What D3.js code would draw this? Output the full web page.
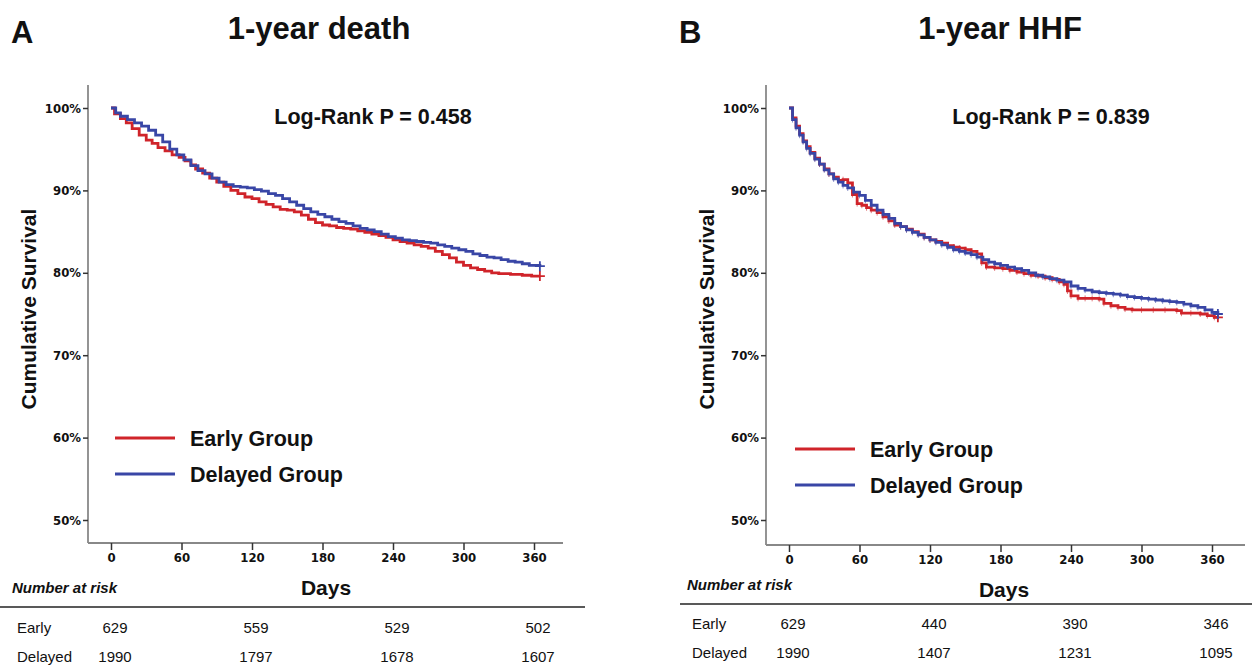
<!DOCTYPE html>
<html>
<head>
<meta charset="utf-8">
<script src="https://cdn.jsdelivr.net/npm/d3@7"></script>
<style>
  body { margin: 0; background: #fff; }
  text { font-family: "Liberation Sans", Arial, sans-serif; fill: #111; }
  .tick text { font-family: "Liberation Sans Narrow", "DejaVu Sans Condensed", sans-serif; font-weight: bold; font-size: 13px; }
</style>
</head>
<body>
<div id="container"></div>
<script>
const w = 1252;
const h = 665;

const dayTicks = [0, 60, 120, 180, 240, 300, 360];
const pctTicks = [0.5, 0.6, 0.7, 0.8, 0.9, 1.0];
const riskDays = [0, 120, 240, 360];
const groups = ['Early', 'Delayed'];

// panel A: 1-year death
const deathEarlyDays = [0, 3, 8, 13, 18, 24, 30, 35, 40, 46, 52, 58, 63, 68, 72, 78, 84, 90, 96, 102, 108, 114, 120, 126, 132, 138, 144, 150, 156, 162, 168, 174, 180, 186, 192, 198, 204, 210, 216, 222, 228, 234, 240, 246, 252, 258, 264, 270, 276, 282, 288, 294, 300, 306, 312, 318, 324, 330, 340, 350, 358, 365];
const deathEarlySurv = [100, 99.3, 98.7, 98.2, 97.5, 96.7, 96.1, 95.7, 95.2, 94.8, 94.3, 94.0, 93.6, 93.1, 92.6, 92.1, 91.5, 91.0, 90.5, 90.0, 89.6, 89.2, 89.0, 88.6, 88.3, 88.0, 87.7, 87.6, 87.4, 87.0, 86.5, 86.1, 85.8, 85.7, 85.5, 85.4, 85.3, 85.1, 84.9, 84.7, 84.5, 84.3, 84.0, 83.8, 83.6, 83.4, 83.2, 83.0, 82.6, 82.2, 81.8, 81.3, 80.9, 80.6, 80.4, 80.2, 80.0, 79.9, 79.8, 79.7, 79.6, 79.6];
const deathDelayedDays = [0, 4, 8, 14, 20, 26, 32, 38, 44, 50, 56, 62, 68, 74, 80, 86, 92, 98, 104, 110, 116, 122, 128, 134, 140, 146, 152, 158, 164, 170, 176, 182, 188, 194, 200, 206, 212, 218, 224, 230, 236, 242, 248, 254, 260, 266, 272, 278, 284, 290, 296, 302, 308, 314, 320, 326, 332, 338, 344, 350, 356, 365];
const deathDelayedSurv = [100, 99.4, 99.0, 98.6, 98.2, 97.8, 97.3, 96.7, 95.9, 95.0, 94.3, 93.7, 93.0, 92.4, 92.0, 91.5, 91.0, 90.7, 90.5, 90.4, 90.3, 90.1, 89.9, 89.6, 89.4, 89.0, 88.6, 88.2, 87.8, 87.4, 87.1, 86.8, 86.5, 86.2, 86.0, 85.7, 85.4, 85.2, 85.0, 84.7, 84.4, 84.2, 84.0, 83.9, 83.8, 83.7, 83.6, 83.4, 83.2, 83.0, 82.8, 82.6, 82.3, 82.1, 81.9, 81.8, 81.6, 81.4, 81.3, 81.1, 80.9, 80.8];
const deathRiskEarly = [629, 559, 529, 502];
const deathRiskDelayed = [1990, 1797, 1678, 1607];

// panel B: 1-year HHF
const hhfEarlyDays = [0, 3, 6, 9, 12, 15, 18, 22, 26, 30, 34, 38, 42, 46, 50, 54, 58, 62, 66, 70, 75, 80, 85, 90, 95, 100, 105, 110, 115, 120, 125, 130, 135, 140, 145, 150, 155, 160, 164, 168, 175, 182, 188, 194, 200, 206, 212, 218, 224, 230, 234, 237, 240, 246, 252, 258, 264, 268, 274, 280, 286, 292, 300, 310, 320, 330, 334, 342, 350, 356, 362, 365];
const hhfEarlySurv = [100, 98.8, 97.8, 96.9, 96.0, 95.3, 94.6, 93.9, 93.2, 92.6, 92.0, 91.6, 91.2, 91.3, 90.9, 89.5, 88.4, 88.2, 87.9, 87.6, 87.3, 86.8, 86.3, 85.8, 85.6, 85.3, 85.0, 84.7, 84.3, 84.0, 83.8, 83.6, 83.3, 83.1, 83.0, 82.8, 82.6, 82.3, 81.2, 80.7, 80.6, 80.5, 80.3, 80.1, 79.9, 79.7, 79.6, 79.4, 79.2, 78.9, 78.6, 77.8, 77.2, 76.9, 76.9, 76.9, 76.8, 76.3, 76.0, 75.8, 75.6, 75.5, 75.5, 75.5, 75.5, 75.4, 75.1, 75.1, 75.0, 74.8, 74.6, 74.6];
const hhfDelayedDays = [0, 3, 6, 9, 12, 15, 18, 22, 26, 30, 34, 38, 42, 46, 50, 55, 60, 65, 70, 75, 80, 85, 90, 95, 100, 105, 110, 115, 120, 125, 130, 135, 140, 145, 150, 155, 160, 165, 170, 175, 180, 186, 192, 198, 204, 210, 216, 222, 228, 234, 240, 246, 252, 258, 264, 270, 276, 282, 288, 294, 300, 306, 312, 318, 324, 330, 336, 342, 348, 354, 360, 365];
const hhfDelayedSurv = [100, 98.6, 97.6, 96.7, 95.9, 95.1, 94.5, 93.8, 93.2, 92.5, 92.0, 91.4, 91.0, 90.6, 90.3, 89.8, 89.4, 88.8, 88.2, 87.6, 87.1, 86.6, 86.0, 85.6, 85.2, 84.9, 84.6, 84.3, 84.0, 83.7, 83.4, 83.1, 82.8, 82.6, 82.4, 82.2, 81.9, 81.6, 81.3, 81.1, 80.9, 80.7, 80.5, 80.3, 80.0, 79.7, 79.5, 79.3, 79.1, 78.9, 78.4, 78.1, 77.9, 77.7, 77.6, 77.5, 77.4, 77.3, 77.1, 77.0, 76.9, 76.8, 76.7, 76.6, 76.5, 76.4, 76.2, 76.0, 75.8, 75.5, 75.2, 75.0];
const hhfRiskEarly = [629, 440, 390, 346];
const hhfRiskDelayed = [1990, 1407, 1231, 1095];

const red = '#d0242a';
const blue = '#3946a6';

const svg = d3.select('#container')
  .append('svg')
  .attr('width', w)
  .attr('height', h)
  .attr('viewBox', [0, 0, w, h]);

const zip = (days, surv) => days.map((d, i) => [d, surv[i] / 100]);

function panel(o) {
  const g = svg.append('g').attr('transform', `translate(${o.dx},0)`);
  const x = d3.scaleLinear().domain([0, 360]).range([111, 534]);
  const y = d3.scaleLinear().domain([0.5, 1]).range([520, 108]);

  g.append('text').attr('x', o.letterX).attr('y', 43)
    .attr('font-size', 31).attr('font-weight', 'bold').text(o.letter);
  g.append('text').attr('x', o.titleX).attr('y', 39).attr('text-anchor', 'middle')
    .attr('font-size', 31).attr('font-weight', 'bold').text(o.title);

  // axes
  const yAxis = d3.axisLeft(y).tickValues(pctTicks).tickFormat(d3.format('.0%')).tickSize(5).tickPadding(2);
  const xAxis = d3.axisBottom(x).tickValues(dayTicks).tickSize(7).tickPadding(3);
  const ya = g.append('g').attr('transform', 'translate(88,0)').call(yAxis);
  ya.select('.domain').attr('d', 'M0,85V' + o.axisY);
  const xa = g.append('g').attr('transform', `translate(0,${o.axisY})`).call(xAxis);
  xa.select('.domain').attr('d', 'M88,0H' + o.axisEnd);
  g.selectAll('.domain').attr('stroke', '#888').attr('stroke-width', 1.8);
  g.selectAll('.tick line').attr('stroke', '#333').attr('stroke-width', 1.5);

  g.append('text').attr('transform', `translate(36,309) rotate(-90)`).attr('text-anchor', 'middle')
    .attr('font-size', 21).attr('font-weight', 'bold').text('Cumulative Survival');
  g.append('text').attr('x', 326).attr('y', o.axisY + 52).attr('text-anchor', 'middle')
    .attr('font-size', 21).attr('font-weight', 'bold').text('Days');
  g.append('text').attr('x', 373).attr('y', 124).attr('text-anchor', 'middle')
    .attr('font-size', 21.5).attr('font-weight', 'bold').text(o.pText);

  // curves
  const line = d3.line().x(d => x(d[0])).y(d => y(d[1])).curve(d3.curveStepAfter);
  const series = [[o.early, red], [o.delayed, blue]];
  series.forEach(([data, col]) => {
    g.append('path').datum(data).attr('fill', 'none').attr('stroke', col)
      .attr('stroke-width', 2.8).attr('d', line);
    if (o.censorAll) {
      g.append('g').selectAll('path').data(data.slice(1)).join('path')
        .attr('stroke', col).attr('stroke-width', 1).attr('opacity', 0.6)
        .attr('d', d => `M${x(d[0])},${y(d[1]) - 3}V${y(d[1]) + 3}`);
    }
    const d = data[data.length - 1];
    g.append('path').attr('stroke', col).attr('stroke-width', 1.8)
      .attr('d', `M${x(d[0])},${y(d[1]) - 5}V${y(d[1]) + 5}M${x(d[0]) - 5},${y(d[1])}H${x(d[0]) + 5}`);
  });

  // legend
  const leg = g.append('g').attr('transform', `translate(0,${o.legY})`);
  groups.forEach((grp, i) => {
    const ly = i * 36;
    leg.append('line').attr('x1', o.legX).attr('x2', o.legX + 60).attr('y1', ly).attr('y2', ly)
      .attr('stroke', i ? blue : red).attr('stroke-width', 2.8);
    leg.append('text').attr('x', o.legX + 75).attr('y', ly + 8)
      .attr('font-size', 21.5).attr('font-weight', 'bold').text(grp + ' Group');
  });

  // number at risk table
  g.append('text').attr('x', o.nrX).attr('y', o.nrY).attr('font-size', 15)
    .attr('font-weight', 'bold').attr('font-style', 'italic').text('Number at risk');
  g.append('line').attr('x1', o.lineX1).attr('x2', o.lineX2).attr('y1', o.nrY + 14).attr('y2', o.nrY + 14)
    .attr('stroke', '#222').attr('stroke-width', 1.6);
  [o.riskEarly, o.riskDelayed].forEach((row, i) => {
    const ry = o.rowY + i * 29;
    g.append('text').attr('x', o.nrX + 5).attr('y', ry).attr('font-size', 15).text(groups[i]);
    g.append('g').selectAll('text').data(row).join('text')
      .attr('x', (d, j) => x(riskDays[j]) + 4).attr('y', ry).attr('text-anchor', 'middle')
      .attr('font-size', 15).text(d => d);
  });
}

panel({
  dx: 0, letter: 'A', letterX: 11, title: '1-year death', titleX: 319,
  axisY: 543, axisEnd: 563, pText: 'Log-Rank P = 0.458',
  early: zip(deathEarlyDays, deathEarlySurv), delayed: zip(deathDelayedDays, deathDelayedSurv),
  censorAll: false, legX: 115, legY: 438,
  nrX: 12, nrY: 593, lineX1: 0, lineX2: 585, rowY: 633,
  riskEarly: deathRiskEarly, riskDelayed: deathRiskDelayed
});

panel({
  dx: 678, letter: 'B', letterX: 1, title: '1-year HHF', titleX: 322,
  axisY: 545, axisEnd: 567, pText: 'Log-Rank P = 0.839',
  early: zip(hhfEarlyDays, hhfEarlySurv), delayed: zip(hhfDelayedDays, hhfDelayedSurv),
  censorAll: true, legX: 117, legY: 449,
  nrX: 9, nrY: 590, lineX1: 2, lineX2: 574, rowY: 629,
  riskEarly: hhfRiskEarly, riskDelayed: hhfRiskDelayed
});
</script>
</body>
</html>
